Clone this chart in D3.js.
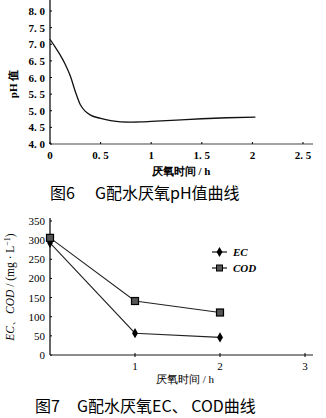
<!DOCTYPE html>
<html><head><meta charset="utf-8">
<script src="https://cdn.jsdelivr.net/npm/d3@7"></script>
<style>
html,body{margin:0;padding:0;background:#fff;}
svg{display:block;}
</style></head>
<body>
<script>
// Figure 6: pH curve
const phTime = [0, 0.05, 0.1, 0.15, 0.2, 0.25, 0.3, 0.35, 0.4, 0.5, 0.6, 0.7, 0.8, 0.9, 1.0, 1.25, 1.5, 1.75, 2.03];
const phValue = [7.15, 6.92, 6.68, 6.4, 6.05, 5.58, 5.18, 4.98, 4.87, 4.77, 4.7, 4.665, 4.66, 4.665, 4.68, 4.72, 4.76, 4.79, 4.81];
const phYTicks = [4.0, 4.5, 5.0, 5.5, 6.0, 6.5, 7.0, 7.5, 8.0];
const phXTicks = [0, 0.5, 1, 1.5, 2, 2.5];

// Figure 7: EC / COD
const anTime = [0, 1, 2];
const ecValue = [293, 57, 46];
const codValue = [306, 141, 111];
const ecodYTicks = [0, 50, 100, 150, 200, 250, 300, 350];
const ecodXTicks = [1, 2, 3];

const W = 326, H = 418;
const svg = d3.select("body").append("svg").attr("width", W).attr("height", H);
const serif = "'Liberation Serif','DejaVu Serif',serif";
const cjk = "'Noto Sans CJK SC','Noto Sans',sans-serif";
const fmt1 = d => d.toFixed(1).replace(".", ". ");
const fmtX = d => (d % 1 === 0 ? String(d) : d.toFixed(1).replace(".", ". "));

// ---------- Chart 1 ----------
{
  const x = d3.scaleLinear().domain([0, 2.5]).range([50, 303]);
  const y = d3.scaleLinear().domain([4, 8]).range([144, 11]);
  const g = svg.append("g");
  g.append("line").attr("x1", 50).attr("x2", 50).attr("y1", 0).attr("y2", 144).attr("stroke", "#000").attr("stroke-width", 1.2);
  g.append("line").attr("x1", 50).attr("x2", 313).attr("y1", 144).attr("y2", 144).attr("stroke", "#444").attr("stroke-width", 1.2);
  g.selectAll(".yt").data(phYTicks).join("line")
    .attr("x1", 50).attr("x2", 52).attr("y1", d => y(d)).attr("y2", d => y(d)).attr("stroke", "#000");
  g.selectAll(".yl").data(phYTicks).join("text")
    .attr("x", 45).attr("y", d => y(d) + 4).attr("text-anchor", "end")
    .attr("font-family", serif).attr("font-weight", "bold").attr("font-size", 11).text(fmt1);
  g.selectAll(".xt").data(phXTicks).join("line")
    .attr("x1", d => x(d)).attr("x2", d => x(d)).attr("y1", 142).attr("y2", 144).attr("stroke", "#000");
  g.selectAll(".xl").data(phXTicks).join("text")
    .attr("x", d => x(d)).attr("y", 159).attr("text-anchor", "middle")
    .attr("font-family", serif).attr("font-weight", "bold").attr("font-size", 11).text(fmtX);
  g.append("text").attr("transform", "translate(17,84) rotate(-90)").attr("text-anchor", "middle")
    .attr("font-family", serif).attr("font-weight", "bold").attr("font-size", 11).text("pH 值");
  g.append("text").attr("x", 181).attr("y", 175).attr("text-anchor", "middle")
    .attr("font-family", serif).attr("font-weight", "bold").attr("font-size", 11).text("厌氧时间 / h");
  g.append("text").attr("x", 50).attr("y", 199)
    .attr("font-family", cjk).attr("font-size", 16).text("图6");
  g.append("text").attr("x", 95).attr("y", 199)
    .attr("font-family", cjk).attr("font-size", 16).text("G配水厌氧pH值曲线");
  const line = d3.line().x((d, i) => x(phTime[i])).y(d => y(d)).curve(d3.curveMonotoneX);
  g.append("path").datum(phValue).attr("d", line).attr("fill", "none").attr("stroke", "#111").attr("stroke-width", 1.3);
}

// ---------- Chart 2 ----------
{
  const x = d3.scaleLinear().domain([0, 3]).range([50, 305]);
  const y = d3.scaleLinear().domain([0, 350]).range([355, 221]);
  const g = svg.append("g");
  g.append("line").attr("x1", 50).attr("x2", 50).attr("y1", 218).attr("y2", 355).attr("stroke", "#000").attr("stroke-width", 1.2);
  g.append("line").attr("x1", 50).attr("x2", 313).attr("y1", 355).attr("y2", 355).attr("stroke", "#666").attr("stroke-width", 1.4);
  g.selectAll(".yt").data(ecodYTicks).join("line")
    .attr("x1", 50).attr("x2", 52).attr("y1", d => y(d)).attr("y2", d => y(d)).attr("stroke", "#000");
  g.selectAll(".yl").data(ecodYTicks).join("text")
    .attr("x", 45).attr("y", d => y(d) + 4).attr("text-anchor", "end")
    .attr("font-family", serif).attr("font-size", 11).text(d => d);
  g.selectAll(".xt").data(ecodXTicks).join("line")
    .attr("x1", d => x(d)).attr("x2", d => x(d)).attr("y1", 353).attr("y2", 357).attr("stroke", "#000");
  g.selectAll(".xl").data(ecodXTicks).join("text")
    .attr("x", d => x(d)).attr("y", 370).attr("text-anchor", "middle")
    .attr("font-family", serif).attr("font-size", 11).text(d => d);
  const yl = g.append("text").attr("transform", "translate(14,287) rotate(-90)").attr("text-anchor", "middle")
    .attr("font-family", serif).attr("font-size", 11.5);
  yl.append("tspan").attr("font-style", "italic").text("EC");
  yl.append("tspan").text("、");
  yl.append("tspan").attr("font-style", "italic").text("COD");
  yl.append("tspan").text(" / (mg · L");
  yl.append("tspan").attr("font-size", 8).attr("dy", -4).text("−1");
  yl.append("tspan").attr("dy", 4).text(")");
  g.append("text").attr("x", 185).attr("y", 383).attr("text-anchor", "middle")
    .attr("font-family", serif).attr("font-size", 11).text("厌氧时间 / h");
  g.append("text").attr("x", 35).attr("y", 412)
    .attr("font-family", cjk).attr("font-size", 16).text("图7");
  g.append("text").attr("x", 77).attr("y", 412)
    .attr("font-family", cjk).attr("font-size", 16).text("G配水厌氧EC、 COD曲线");

  const line = d3.line().x((d, i) => x(anTime[i])).y(d => y(d));
  g.append("path").datum(codValue).attr("d", line).attr("fill", "none").attr("stroke", "#222").attr("stroke-width", 1.1);
  g.append("path").datum(ecValue).attr("d", line).attr("fill", "none").attr("stroke", "#222").attr("stroke-width", 1.1);
  const diamond = d3.symbol().type(d3.symbolDiamond).size(30);
  g.selectAll(".ec").data(ecValue).join("path")
    .attr("transform", (d, i) => `translate(${x(anTime[i])},${y(d)})`).attr("d", diamond).attr("fill", "#000");
  g.selectAll(".cod").data(codValue).join("rect")
    .attr("x", (d, i) => x(anTime[i]) - 3.5).attr("y", d => y(d) - 3.5).attr("width", 7).attr("height", 7)
    .attr("fill", "#555").attr("stroke", "#000").attr("stroke-width", 1.2);

  const lg = g.append("g");
  lg.append("line").attr("x1", 212).attr("x2", 227).attr("y1", 252).attr("y2", 252).attr("stroke", "#000").attr("stroke-width", 1.1);
  lg.append("path").attr("transform", "translate(219.5,252)").attr("d", diamond).attr("fill", "#000");
  lg.append("text").attr("x", 233).attr("y", 256).attr("font-family", serif).attr("font-style", "italic").attr("font-weight", "bold").attr("font-size", 11).text("EC");
  lg.append("line").attr("x1", 212).attr("x2", 227).attr("y1", 268).attr("y2", 268).attr("stroke", "#000").attr("stroke-width", 1.1);
  lg.append("rect").attr("x", 216.5).attr("y", 265).attr("width", 6).attr("height", 6).attr("fill", "#555").attr("stroke", "#000");
  lg.append("text").attr("x", 233).attr("y", 272).attr("font-family", serif).attr("font-style", "italic").attr("font-weight", "bold").attr("font-size", 11).text("COD");
}
</script>
</body></html>
